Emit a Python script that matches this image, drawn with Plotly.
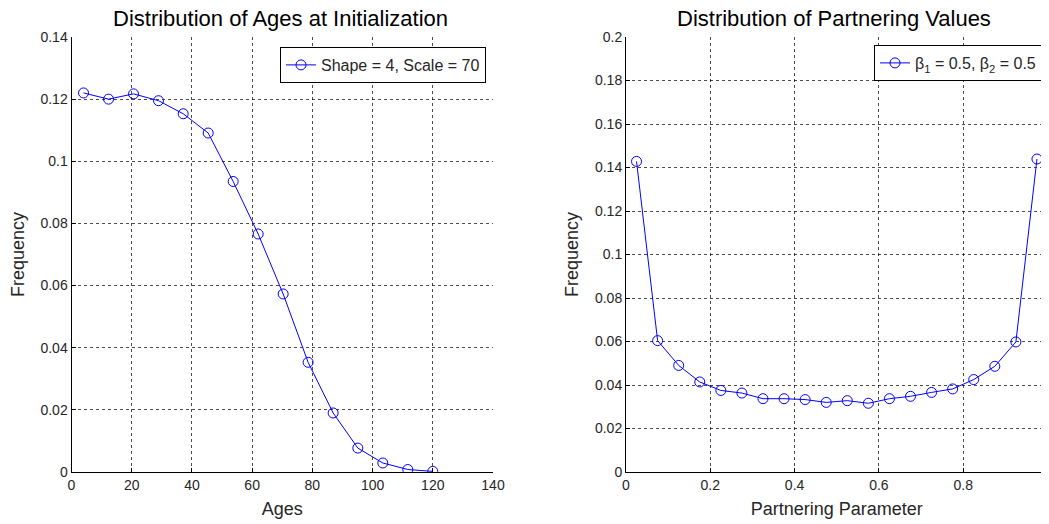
import numpy as np
import plotly.graph_objects as go

# Left chart data
ages = [4.0, 12.3, 20.6, 28.9, 37.1, 45.4, 53.7, 62.0, 70.3, 78.6, 86.9, 95.1, 103.4, 111.7, 120.0]
age_freq = [0.1220, 0.1200, 0.1217, 0.1195, 0.1153, 0.1091, 0.0935, 0.0766, 0.0573,
            0.0353, 0.0190, 0.0077, 0.0029, 0.0008, 0.0002]
age_xticks = [0, 20, 40, 60, 80, 100, 120, 140]
age_yticks = [0, 0.02, 0.04, 0.06, 0.08, 0.1, 0.12, 0.14]

# Right chart data
partner = [0.025, 0.075, 0.125, 0.175, 0.225, 0.275, 0.325, 0.375, 0.425, 0.475,
           0.525, 0.575, 0.625, 0.675, 0.725, 0.775, 0.825, 0.875, 0.925, 0.975]
partner_freq = [0.1428, 0.0604, 0.0490, 0.0414, 0.0375, 0.0363, 0.0337, 0.0337, 0.0333, 0.0320,
                0.0328, 0.0316, 0.0337, 0.0348, 0.0366, 0.0382, 0.0425, 0.0486, 0.0598, 0.1439]
p_xticks = [0, 0.2, 0.4, 0.6, 0.8, 1]
p_yticks = [0, 0.02, 0.04, 0.06, 0.08, 0.1, 0.12, 0.14, 0.16, 0.18, 0.2]

W, H = 1049, 524
OFF = 8  # page body margin
FONT = "Liberation Sans, Arial, sans-serif"
BLUE = "#0000ff"
TXT = "#262626"


def px(x):
    return (x - OFF) / W


def py(y):
    return (H - (y - OFF)) / H


fig = go.Figure()
fig.add_trace(go.Scatter(
    x=ages, y=age_freq, mode="lines+markers", name="Shape = 4, Scale = 70",
    line=dict(color=BLUE, width=1),
    marker=dict(symbol="circle-open", size=10, color=BLUE, line=dict(width=1)),
    xaxis="x", yaxis="y", legend="legend", showlegend=True))
fig.add_trace(go.Scatter(
    x=partner, y=partner_freq, mode="lines+markers",
    name="β<sub>1</sub> = 0.5, β<sub>2</sub> = 0.5",
    line=dict(color=BLUE, width=1),
    marker=dict(symbol="circle-open", size=10, color=BLUE, line=dict(width=1)),
    xaxis="x2", yaxis="y2", legend="legend2", showlegend=True))

d1 = [px(71.5), px(493)]
d2 = [px(626), px(1047.5)]
ydom = [py(472), py(37)]

axis_common = dict(
    showline=True, linecolor="black", linewidth=1, mirror=False,
    ticks="inside", ticklen=4, tickcolor="black", automargin=False,
    showgrid=True, gridcolor="rgba(0,0,0,0.7)", griddash="dot", gridwidth=1,
    zeroline=False, tickfont=dict(family=FONT, size=14, color=TXT),
    title_font=dict(family=FONT, size=18, color=TXT),
)

fig.update_layout(
    width=W, height=H,
    paper_bgcolor="white", plot_bgcolor="white",
    margin=dict(l=0, r=0, t=0, b=0),
    showlegend=True,
    font=dict(family=FONT, color=TXT),
    xaxis=dict(domain=d1, range=[0, 140], tickvals=age_xticks, anchor="y",
               title=dict(text="Ages", standoff=10), **axis_common),
    yaxis=dict(domain=ydom, range=[0, 0.14], tickvals=age_yticks,
               ticktext=["0", "0.02", "0.04", "0.06", "0.08", "0.1", "0.12", "0.14"],
               anchor="x", title=dict(text="Frequency", standoff=11), **axis_common),
    xaxis2=dict(domain=d2, range=[0, 1], tickvals=p_xticks,
                ticktext=["0", "0.2", "0.4", "0.6", "0.8", "1"], anchor="y2",
                title=dict(text="Partnering Parameter", standoff=10), **axis_common),
    yaxis2=dict(domain=ydom, range=[0, 0.2], tickvals=p_yticks,
                ticktext=["0", "0.02", "0.04", "0.06", "0.08", "0.1", "0.12", "0.14",
                          "0.16", "0.18", "0.2"],
                anchor="x2", title=dict(text="Frequency", standoff=11), **axis_common),
    legend=dict(x=px(486), y=py(47), xanchor="right", yanchor="top",
                bgcolor="white", bordercolor="black", borderwidth=1,
                font=dict(family=FONT, size=16, color=TXT)),
    legend2=dict(x=px(1042), y=py(45), xanchor="right", yanchor="top",
                 bgcolor="white", bordercolor="black", borderwidth=1,
                 font=dict(family=FONT, size=16, color=TXT)),
    annotations=[
        dict(text="Distribution of Ages at Initialization", x=px(280),
             y=py(19), xref="paper", yref="paper", showarrow=False, borderpad=0,
             font=dict(family=FONT, size=22, color="black"), xanchor="center", yanchor="middle"),
        dict(text="Distribution of Partnering Values", x=px(834),
             y=py(19), xref="paper", yref="paper", showarrow=False, borderpad=0,
             font=dict(family=FONT, size=22, color="black"), xanchor="center", yanchor="middle"),
    ],
)

fig.write_html("out.html")
